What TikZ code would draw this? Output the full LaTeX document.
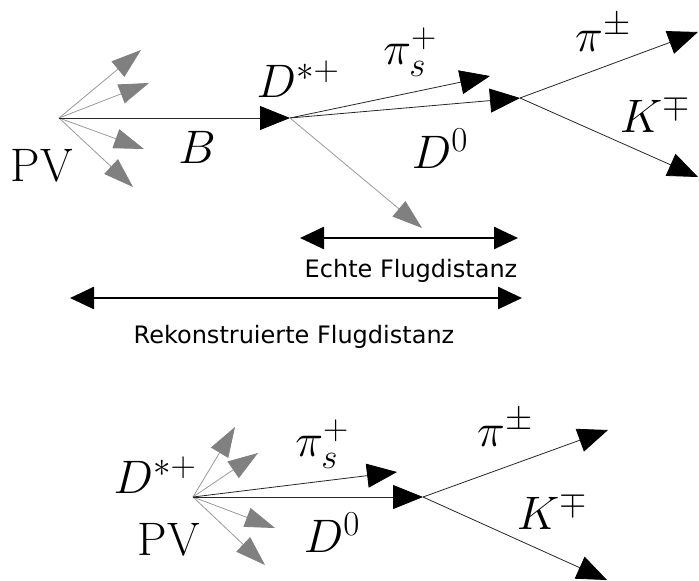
\RequirePackage{fix-cm}
\documentclass[tikz,border=0pt]{standalone}
\usepackage{fontspec}
\newfontfamily\dejavu{DejaVu Sans}
\DeclareMathSizes{47}{47}{35}{27}
\usetikzlibrary{arrows.meta}
\tikzset{
  blk/.style={draw=black!85, line width=0.8pt, -{Triangle[length=30pt,width=24pt,color=black]}},
  gry/.style={draw=gray!80, line width=0.8pt, -{Triangle[length=30pt,width=20pt,color=gray]}},
  dist/.style={line width=2.6pt, {Triangle[length=24pt,width=22pt]}-{Triangle[length=24pt,width=22pt]}},
  lab/.style={font=\fontsize{47}{52}\selectfont, inner sep=0pt},
  sans/.style={font=\dejavu\fontsize{24}{28}\selectfont, inner sep=0pt}
}
\begin{document}
\begin{tikzpicture}[x=1pt,y=-1pt]
\useasboundingbox (0,0) rectangle (699,581);
% ---------- top diagram ----------
\coordinate (pv1) at (59,118);
\coordinate (ds1) at (290,118);
\coordinate (dz1) at (520,98);
\coordinate (g1a) at (141,50);
\coordinate (g1b) at (149,83);
\coordinate (g1c) at (144,149);
\coordinate (g1d) at (133,187);
\coordinate (ps1) at (490,76);
\coordinate (gn1) at (422,228);
\coordinate (pi1) at (698,32);
\coordinate (k1) at (698,177);
\draw[gry] (pv1) -- (g1a);
\draw[gry] (pv1) -- (g1b);
\draw[gry] (pv1) -- (g1c);
\draw[gry] (pv1) -- (g1d);
\draw[blk] (pv1) -- (ds1);
\draw[blk] (ds1) -- (ps1);
\draw[blk] (ds1) -- (dz1);
\draw[gry] (ds1) -- (gn1);
\draw[blk] (dz1) -- (pi1);
\draw[blk] (dz1) -- (k1);
\node[lab] (lpv1) at (42,166) {PV};
\node[lab] (lb1) at (197,147) {$B$};
\node[lab] (lds1) at (298,79) {$D^{*+}$};
\node[lab] (lps1) at (410,52) {$\pi_s^+$};
\node[lab] (ldz1) at (440,149) {$D^0$};
\node[lab] (lpi1) at (603,33) {$\pi^\pm$};
\node[lab] (lk1) at (655,114) {$K^\mp$};
% ---------- distances ----------
\coordinate (ea) at (300,238);
\coordinate (eb) at (518,238);
\coordinate (ra) at (70,298);
\coordinate (rb) at (522,298);
\draw[dist] (ea) -- (eb);
\draw[dist] (ra) -- (rb);
\node[sans] (techt) at (411,271) {Echte Flugdistanz};
\node[sans] (treko) at (294,337) {Rekonstruierte Flugdistanz};
% ---------- bottom diagram ----------
\coordinate (pv2) at (193,497);
\coordinate (dz2) at (423,497);
\coordinate (g2a) at (235,427);
\coordinate (g2b) at (258,453);
\coordinate (g2c) at (275,528);
\coordinate (g2d) at (265,565);
\coordinate (ps2) at (397,472);
\coordinate (pi2) at (608,430);
\coordinate (k2) at (607,580);
\draw[gry] (pv2) -- (g2a);
\draw[gry] (pv2) -- (g2b);
\draw[gry] (pv2) -- (g2c);
\draw[gry] (pv2) -- (g2d);
\draw[blk] (pv2) -- (ps2);
\draw[blk] (pv2) -- (dz2);
\draw[blk] (dz2) -- (pi2);
\draw[blk] (dz2) -- (k2);
\node[lab] (lds2) at (155,475) {$D^{*+}$};
\node[lab] (lpv2) at (169,540) {PV};
\node[lab] (lps2) at (322,444) {$\pi_s^+$};
\node[lab] (ldz2) at (332,533) {$D^0$};
\node[lab] (lpi2) at (505,428) {$\pi^\pm$};
\node[lab] (lk2) at (552,511) {$K^\mp$};
\end{tikzpicture}
\end{document}
